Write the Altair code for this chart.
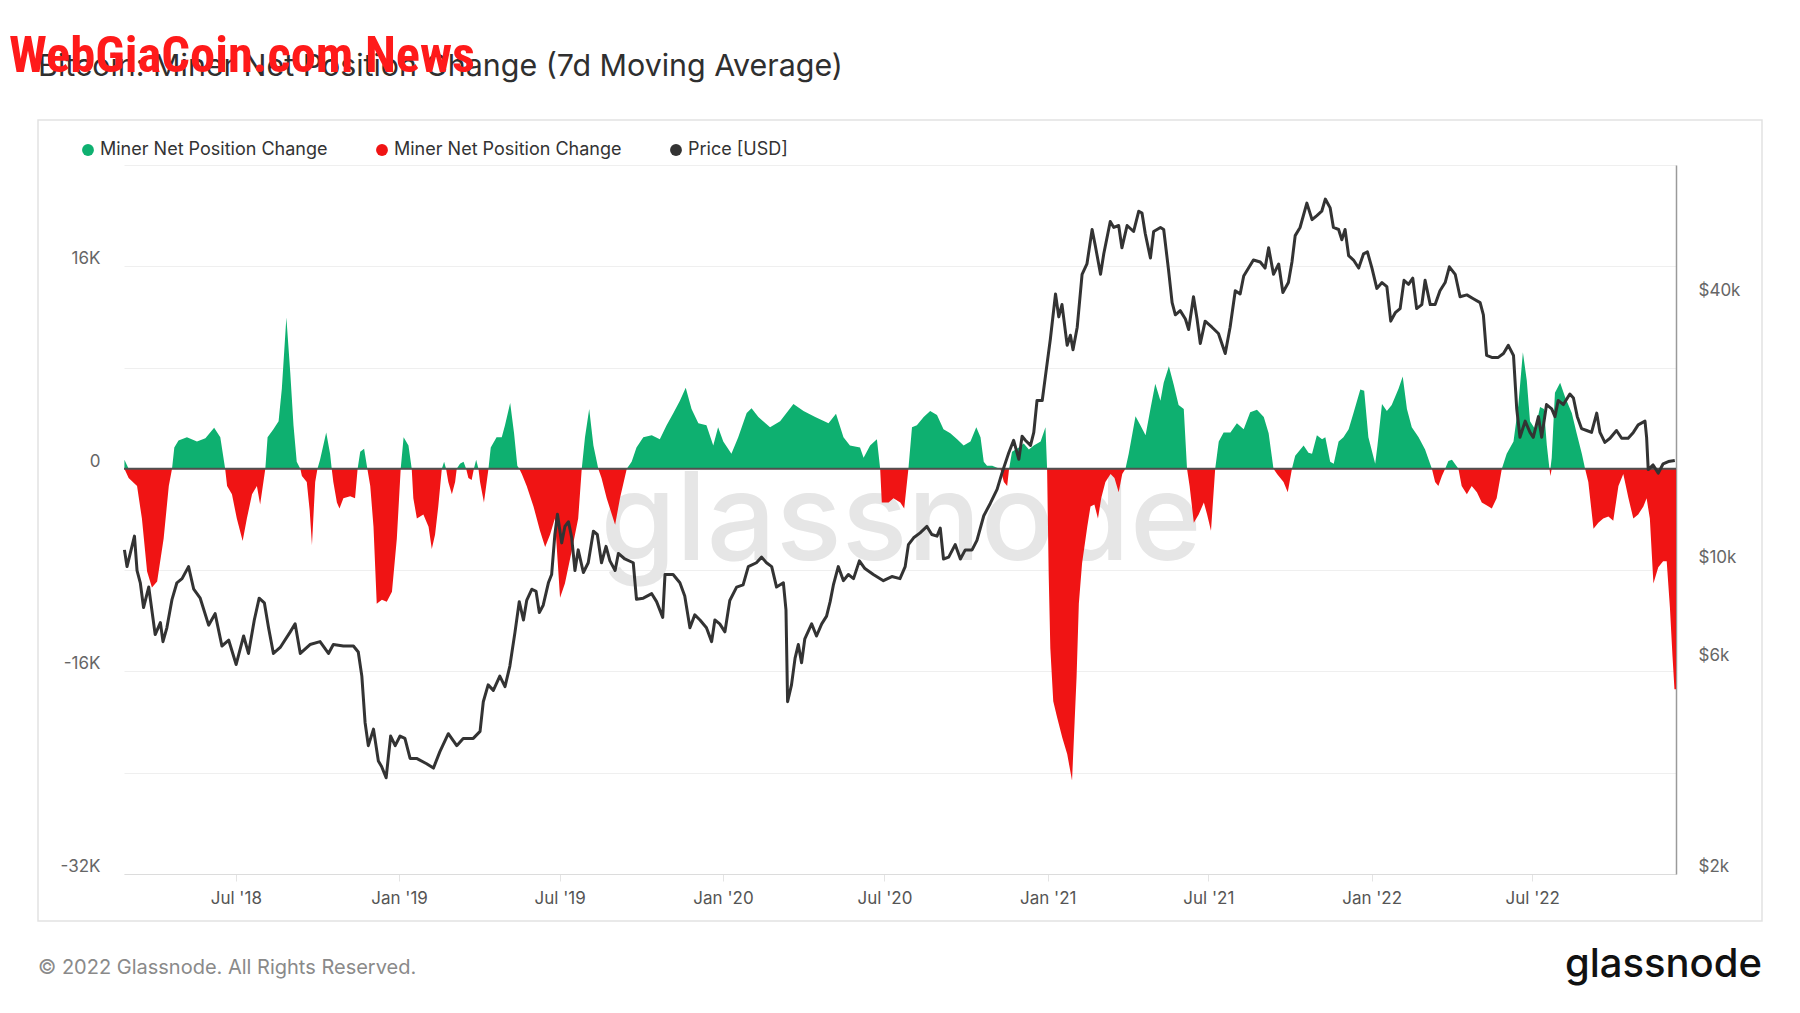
import altair as alt
import pandas as pd

# ---------------- data ----------------
# Miner net position change (7d MA), BTC; dates as decimal years
NET_YEAR = [
    2018.152, 2018.165, 2018.191, 2018.206, 2018.222, 2018.237, 2018.253, 2018.273, 2018.289, 2018.299,
    2018.306, 2018.319, 2018.345, 2018.376, 2018.402, 2018.429, 2018.448, 2018.463, 2018.469, 2018.484,
    2018.499, 2018.517, 2018.530, 2018.546, 2018.561, 2018.571, 2018.587, 2018.594, 2018.612, 2018.628,
    2018.638, 2018.652, 2018.664, 2018.674, 2018.684, 2018.695, 2018.700, 2018.715, 2018.724, 2018.731,
    2018.741, 2018.748, 2018.756, 2018.775, 2018.787, 2018.792, 2018.797, 2018.808, 2018.816, 2018.828,
    2018.849, 2018.864, 2018.872, 2018.880, 2018.892, 2018.902, 2018.911, 2018.921, 2018.931, 2018.947,
    2018.962, 2018.978, 2018.993, 2019.005, 2019.014, 2019.029, 2019.039, 2019.044, 2019.055, 2019.075,
    2019.091, 2019.101, 2019.111, 2019.121, 2019.132, 2019.139, 2019.145, 2019.152, 2019.163, 2019.173,
    2019.178, 2019.188, 2019.199, 2019.207, 2019.214, 2019.224, 2019.231, 2019.238, 2019.245, 2019.250,
    2019.262, 2019.276, 2019.283, 2019.301, 2019.317, 2019.327, 2019.343, 2019.355, 2019.365, 2019.371,
    2019.379, 2019.394, 2019.415, 2019.435, 2019.451, 2019.466, 2019.481, 2019.497, 2019.512, 2019.533,
    2019.553, 2019.564, 2019.574, 2019.587, 2019.600, 2019.615, 2019.625, 2019.641, 2019.667, 2019.682,
    2019.703, 2019.718, 2019.733, 2019.754, 2019.780, 2019.805, 2019.826, 2019.847, 2019.867, 2019.885,
    2019.903, 2019.924, 2019.949, 2019.970, 2019.985, 2020.001, 2020.026, 2020.047, 2020.073, 2020.088,
    2020.109, 2020.145, 2020.176, 2020.217, 2020.248, 2020.284, 2020.325, 2020.348, 2020.371, 2020.391,
    2020.422, 2020.433, 2020.453, 2020.474, 2020.484, 2020.489, 2020.510, 2020.525, 2020.546, 2020.558,
    2020.571, 2020.582, 2020.597, 2020.618, 2020.638, 2020.659, 2020.679, 2020.700, 2020.721, 2020.741,
    2020.762, 2020.780, 2020.793, 2020.803, 2020.813, 2020.829, 2020.844, 2020.854, 2020.865, 2020.875,
    2020.881, 2020.890, 2020.911, 2020.926, 2020.942, 2020.957, 2020.978, 2020.993, 2020.998, 2021.003,
    2021.008, 2021.017, 2021.029, 2021.045, 2021.060, 2021.075, 2021.083, 2021.089, 2021.096, 2021.106,
    2021.122, 2021.132, 2021.144, 2021.155, 2021.165, 2021.178, 2021.194, 2021.206, 2021.219, 2021.230,
    2021.240, 2021.250, 2021.271, 2021.286, 2021.302, 2021.317, 2021.332, 2021.348, 2021.358, 2021.374,
    2021.389, 2021.404, 2021.420, 2021.430, 2021.438, 2021.451, 2021.466, 2021.482, 2021.492, 2021.504,
    2021.517, 2021.528, 2021.543, 2021.564, 2021.584, 2021.605, 2021.625, 2021.646, 2021.667, 2021.682,
    2021.697, 2021.708, 2021.728, 2021.741, 2021.754, 2021.764, 2021.790, 2021.805, 2021.816, 2021.831,
    2021.847, 2021.857, 2021.872, 2021.883, 2021.898, 2021.913, 2021.929, 2021.944, 2021.965, 2021.977,
    2021.990, 2022.011, 2022.018, 2022.032, 2022.047, 2022.062, 2022.083, 2022.096, 2022.109, 2022.124,
    2022.145, 2022.165, 2022.186, 2022.196, 2022.206, 2022.217, 2022.227, 2022.237, 2022.248, 2022.268,
    2022.278, 2022.294, 2022.309, 2022.325, 2022.340, 2022.356, 2022.371, 2022.386, 2022.402, 2022.417,
    2022.438, 2022.453, 2022.467, 2022.479, 2022.489, 2022.505, 2022.520, 2022.532, 2022.541, 2022.549,
    2022.552, 2022.556, 2022.566, 2022.582, 2022.597, 2022.618, 2022.633, 2022.649, 2022.659, 2022.669,
    2022.685, 2022.700, 2022.715, 2022.731, 2022.746, 2022.762, 2022.777, 2022.793, 2022.808, 2022.823,
    2022.839, 2022.849, 2022.859, 2022.870, 2022.885, 2022.900, 2022.911, 2022.921, 2022.929, 2022.935,
    2022.940,
]
NET_VALUE = [
    720, -720, -1360, -3930, -8100, -9380, -8900, -5530, -1360, 0,
    1680, 2230, 2490, 2160, 2420, 3250, 2490, 0, -1360, -2000,
    -3930, -5690, -3930, -2000, -1360, -2810, 0, 2490, 3130, 3770,
    6330, 11950, 7620, 3450, 560, 0, -560, -1040, -3290, -6010,
    -1040, 0, 720, 2870, 1200, 0, -1040, -2650, -3130, -2330,
    -2160, -2330, 0, 1360, 1590, 0, -1360, -4570, -10660, -10340,
    -10500, -9700, -5530, 0, 2490, 1840, 0, -2330, -3930, -3610,
    -4570, -6330, -5210, -2970, 0, 560, 0, -1040, -2000, -1040,
    0, 400, 560, 0, -720, -880, 0, 720, 0, -1040,
    -2650, 0, 1680, 2490, 2490, 3450, 5210, 2810, 240, 0,
    -400, -1360, -2970, -4890, -6170, -5210, -3930, -10180, -9060, -6490,
    -3930, 0, 2490, 4730, 1840, 0, -720, -2330, -4410, -2330,
    0, 560, 1680, 2490, 2650, 2330, 3450, 4410, 5370, 6400,
    4730, 3610, 3450, 1840, 3290, 2160, 1200, 2490, 4410, 4790,
    4090, 3290, 3770, 5120, 4570, 4090, 3610, 4350, 2490, 1840,
    1680, 880, 1840, 2330, 0, -2650, -2650, -2330, -2650, -3130,
    0, 3290, 3450, 4090, 4570, 4250, 3130, 2810, 2330, 1840,
    2160, 3290, 2490, 560, 240, 240, 80, 0, -1040, -1360,
    0, 1360, 1680, 2000, 1520, 1840, 2160, 3290, 0, -8420,
    -14190, -18360, -19640, -21240, -22530, -24610, -19960, -16440, -10660, -7460,
    -4570, -2970, -2810, -3930, -2330, -1040, -400, -720, -1840, -400,
    0, 1200, 4150, 3450, 2650, 4730, 6720, 5370, 6810, 8100,
    6650, 5050, 4730, 0, -1360, -4250, -3610, -2650, -3610, -4890,
    0, 2160, 2870, 2870, 3610, 3130, 4470, 4670, 4090, 2810,
    0, -400, -1040, -1840, 0, 1040, 1840, 1270, 1200, 2650,
    2330, 2490, 560, 400, 2160, 2490, 3130, 4410, 6270, 6170,
    2490, 400, 1840, 5120, 4570, 5050, 6330, 7300, 4730, 3290,
    2490, 1520, 0, -1040, -1360, -560, 0, 630, 720, 0,
    -1360, -2000, -1360, -1840, -2650, -2890, -3130, -2330, 0, 1200,
    2160, 5050, 9220, 6980, 3770, 3130, 4890, 4730, 1840, 0,
    -560, 880, 6010, 6810, 5690, 4410, 2810, 1200, 0, -1040,
    -4730, -4250, -3930, -3770, -4090, -1360, -400, -2330, -3930, -3610,
    -2970, -2330, -3930, -9060, -7780, -7300, -7300, -10980, -14830, -17400,
    -17400,
]

# Bitcoin price [USD]; dates as decimal years
PRICE_YEAR = [
    2018.152, 2018.160, 2018.170, 2018.183, 2018.191, 2018.201, 2018.211, 2018.227, 2018.247, 2018.263,
    2018.271, 2018.283, 2018.299, 2018.314, 2018.330, 2018.350, 2018.366, 2018.386, 2018.412, 2018.432,
    2018.453, 2018.474, 2018.497, 2018.520, 2018.535, 2018.553, 2018.568, 2018.584, 2018.597, 2018.612,
    2018.633, 2018.664, 2018.679, 2018.695, 2018.725, 2018.756, 2018.782, 2018.797, 2018.828, 2018.859,
    2018.874, 2018.885, 2018.895, 2018.905, 2018.921, 2018.936, 2018.946, 2018.960, 2018.974, 2018.988,
    2019.003, 2019.018, 2019.034, 2019.054, 2019.085, 2019.106, 2019.126, 2019.152, 2019.178, 2019.198,
    2019.229, 2019.250, 2019.260, 2019.275, 2019.291, 2019.311, 2019.327, 2019.342, 2019.358, 2019.371,
    2019.384, 2019.394, 2019.410, 2019.423, 2019.433, 2019.445, 2019.461, 2019.471, 2019.481, 2019.489,
    2019.502, 2019.512, 2019.523, 2019.533, 2019.543, 2019.553, 2019.569, 2019.584, 2019.600, 2019.612,
    2019.625, 2019.639, 2019.651, 2019.667, 2019.677, 2019.697, 2019.723, 2019.733, 2019.754, 2019.780,
    2019.795, 2019.814, 2019.821, 2019.846, 2019.867, 2019.882, 2019.898, 2019.913, 2019.929, 2019.949,
    2019.965, 2019.975, 2019.990, 2020.006, 2020.021, 2020.042, 2020.062, 2020.078, 2020.103, 2020.119,
    2020.134, 2020.150, 2020.165, 2020.186, 2020.194, 2020.199, 2020.211, 2020.222, 2020.232, 2020.242,
    2020.252, 2020.273, 2020.288, 2020.304, 2020.319, 2020.330, 2020.340, 2020.355, 2020.371, 2020.386,
    2020.402, 2020.420, 2020.437, 2020.463, 2020.494, 2020.520, 2020.545, 2020.561, 2020.571, 2020.587,
    2020.607, 2020.628, 2020.643, 2020.659, 2020.669, 2020.679, 2020.695, 2020.715, 2020.731, 2020.746,
    2020.767, 2020.782, 2020.803, 2020.823, 2020.844, 2020.859, 2020.880, 2020.895, 2020.911, 2020.921,
    2020.931, 2020.947, 2020.957, 2020.967, 2020.983, 2020.993, 2021.008, 2021.024, 2021.034, 2021.044,
    2021.060, 2021.070, 2021.078, 2021.091, 2021.106, 2021.121, 2021.137, 2021.147, 2021.163, 2021.173,
    2021.193, 2021.204, 2021.219, 2021.229, 2021.245, 2021.265, 2021.281, 2021.291, 2021.301, 2021.317,
    2021.327, 2021.348, 2021.358, 2021.373, 2021.384, 2021.394, 2021.409, 2021.425, 2021.435, 2021.450,
    2021.461, 2021.471, 2021.486, 2021.507, 2021.527, 2021.548, 2021.563, 2021.579, 2021.594, 2021.605,
    2021.620, 2021.635, 2021.656, 2021.671, 2021.682, 2021.697, 2021.713, 2021.726, 2021.743, 2021.754,
    2021.764, 2021.779, 2021.800, 2021.816, 2021.831, 2021.846, 2021.857, 2021.872, 2021.882, 2021.898,
    2021.908, 2021.918, 2021.929, 2021.944, 2021.960, 2021.975, 2021.987, 2022.001, 2022.016, 2022.032,
    2022.047, 2022.059, 2022.073, 2022.088, 2022.100, 2022.114, 2022.127, 2022.139, 2022.155, 2022.165,
    2022.181, 2022.196, 2022.211, 2022.227, 2022.240, 2022.258, 2022.273, 2022.294, 2022.314, 2022.335,
    2022.345, 2022.355, 2022.371, 2022.391, 2022.407, 2022.422, 2022.438, 2022.448, 2022.458, 2022.474,
    2022.489, 2022.499, 2022.515, 2022.525, 2022.540, 2022.556, 2022.566, 2022.576, 2022.592, 2022.612,
    2022.623, 2022.635, 2022.648, 2022.664, 2022.679, 2022.695, 2022.705, 2022.720, 2022.736, 2022.756,
    2022.772, 2022.792, 2022.808, 2022.823, 2022.844, 2022.849, 2022.854, 2022.869, 2022.885, 2022.900,
    2022.916, 2022.936,
]
PRICE_USD = [
    10800, 9900, 10600, 11600, 9700, 9100, 8000, 8900, 6950, 7400,
    6700, 7200, 8350, 9100, 9300, 9900, 8800, 8400, 7300, 7750,
    6550, 6750, 5950, 6900, 6300, 7500, 8400, 8200, 7200, 6300,
    6500, 7050, 7350, 6300, 6600, 6700, 6300, 6600, 6550, 6550,
    6350, 5600, 4400, 3900, 4250, 3600, 3500, 3300, 4100, 3900,
    4100, 4050, 3650, 3650, 3550, 3470, 3780, 4150, 3900, 4050,
    4050, 4200, 4900, 5350, 5200, 5600, 5300, 5900, 7050, 8250,
    7500, 8300, 8800, 8700, 7800, 8100, 9100, 9500, 11700, 13000,
    11200, 12200, 12500, 11500, 9700, 10800, 9600, 10100, 11900, 11700,
    10100, 11000, 10200, 9700, 10600, 10300, 10100, 8350, 8400, 8600,
    8250, 7600, 9500, 9500, 9100, 8500, 7200, 7700, 7500, 7200,
    6700, 7500, 7350, 7050, 8300, 8900, 9000, 9900, 10100, 10400,
    10100, 9900, 8900, 9100, 7900, 4900, 5350, 6150, 6600, 6000,
    6800, 7350, 6900, 7350, 7650, 8250, 9000, 9900, 9200, 9500,
    9300, 10200, 9800, 9500, 9200, 9400, 9300, 9900, 11100, 11500,
    11800, 12200, 11700, 11600, 12100, 10300, 10400, 11100, 10300, 10800,
    10800, 11350, 12900, 13750, 14800, 16100, 17900, 19100, 17300, 19500,
    19100, 18600, 19900, 23500, 23500, 26700, 32300, 40900, 36300, 38700,
    31300, 33000, 30600, 34400, 45300, 47800, 57200, 52500, 45300, 50400,
    59600, 57800, 58400, 52000, 58400, 56600, 62900, 62300, 56000, 49300,
    56600, 57800, 57200, 46300, 39100, 36700, 37500, 35900, 34000, 40300,
    35900, 31600, 35500, 34400, 33300, 30000, 34400, 41600, 40900, 44900,
    46800, 48800, 48300, 46800, 52000, 45300, 47800, 41200, 43400, 48300,
    55400, 57800, 65600, 60200, 61500, 62900, 67000, 64000, 57800, 57200,
    54200, 57200, 49900, 48800, 46800, 50400, 50900, 46800, 42100, 43400,
    42500, 35500, 37100, 37900, 43900, 43000, 44400, 37900, 38700, 43900,
    38700, 38700, 41600, 43400, 47100, 45300, 40300, 40700, 39900, 39100,
    36700, 29700, 29400, 29400, 30000, 31300, 29700, 22500, 19400, 21100,
    19900, 19400, 21600, 19400, 23000, 22500, 21600, 23500, 23000, 24300,
    23800, 21600, 20300, 20100, 19900, 22000, 19900, 18900, 19300, 20100,
    19300, 19300, 19900, 20700, 21100, 19400, 16400, 16800, 16100, 16900,
    17100, 17200,
]

X_START = "2018-02-25"
X_END = "2022-12-10"
X_TICKS = ["2018-07-01", "2019-01-01", "2019-07-01", "2020-01-01", "2020-07-01",
           "2021-01-01", "2021-07-01", "2022-01-01", "2022-07-01"]
LEFT_DOMAIN = [-32000, 24000]
LEFT_TICKS = [-32000, -24000, -16000, -8000, 0, 8000, 16000, 24000]
RIGHT_DOMAIN = [2000, 80000]
RIGHT_TICKS = [2000, 4000, 6000, 8000, 10000, 20000, 40000, 60000, 80000]
RIGHT_LABELED = [2000, 6000, 10000, 40000]

TITLE = "Bitcoin: Miner Net Position Change (7d Moving Average)"
OVERLAY = "WebGiaCoin.com News"
FOOTER = "\u00a9 2022 Glassnode. All Rights Reserved."
BRAND = "glassnode"

GREEN = "#0eb070"
RED = "#f01414"
DARK = "#333333"
FONT = "Inter"
AXIS_FS = 17


def to_date(y):
    yi = int(y)
    start = pd.Timestamp(year=yi, month=1, day=1)
    ndays = (pd.Timestamp(year=yi + 1, month=1, day=1) - start).days
    return start + pd.Timedelta(days=(y - yi) * ndays)


net = pd.DataFrame({"date": [to_date(y) for y in NET_YEAR], "value": NET_VALUE})
net["pos"] = net["value"].clip(lower=0)
net["neg"] = net["value"].clip(upper=0)
price = pd.DataFrame({"date": [to_date(y) for y in PRICE_YEAR], "price": PRICE_USD})

W, H = 1552, 709

xscale = alt.Scale(domain=[pd.Timestamp(X_START).isoformat(), pd.Timestamp(X_END).isoformat()])
xaxis = alt.Axis(
    values=[pd.Timestamp(t).isoformat() for t in X_TICKS], format="%b '%y", title=None,
    grid=False, labelFont=FONT, labelFontSize=AXIS_FS, labelColor="#555555",
    tickColor="#e4e4e4", tickSize=7, domainColor="#dcdcdc", labelPadding=9,
    labelOverlap=False, labelFlush=False,
)

color_scale = alt.Scale(domain=["pos", "neg", "price"], range=[GREEN, RED, DARK])
legend = alt.Legend(
    orient="none", legendX=-45, legendY=-24, direction="horizontal", title=None,
    symbolType="circle", symbolSize=140, symbolStrokeWidth=0, labelFont=FONT, labelFontSize=18,
    labelColor="#333333", labelOffset=3, columnPadding=45, labelLimit=0,
    labelExpr="datum.value == 'price' ? 'Price [USD]' : 'Miner Net Position Change'",
)

left_scale = alt.Scale(domain=LEFT_DOMAIN, nice=False, zero=False)
left_axis = alt.Axis(
    orient="left", values=LEFT_TICKS, title=None, domain=False, ticks=False,
    labelExpr="datum.value % 16000 == 0 ? (datum.value == 0 ? '0' : (datum.value / 1000) + 'K') : ''",
    gridColor="#efefef", labelFont=FONT, labelFontSize=AXIS_FS, labelColor="#666666",
    labelPadding=24, labelBaseline="bottom", labelOffset=1.5, labelOverlap=False, labelFlush=False,
)

labeled = ",".join(str(v) for v in RIGHT_LABELED)
right_scale = alt.Scale(type="log", domain=RIGHT_DOMAIN, nice=False)
right_axis = alt.Axis(
    orient="right", values=RIGHT_TICKS, title=None, ticks=False,
    labelExpr=f"indexof([{labeled}], datum.value) >= 0 ? '$' + (datum.value / 1000) + 'k' : ''",
    gridColor="#efefef", domain=True, domainColor="#9a9a9a", domainWidth=1.5,
    labelFont=FONT, labelFontSize=AXIS_FS, labelColor="#666666",
    labelPadding=22, labelBaseline="bottom", labelOffset=1.5, labelOverlap=False, labelFlush=False,
)

x_enc = alt.X("date:T", scale=xscale, axis=xaxis)

pos_area = alt.Chart(net).transform_calculate(series="'pos'").mark_area(
    interpolate="linear", opacity=1
).encode(
    x=x_enc,
    y=alt.Y("pos:Q", scale=left_scale, axis=left_axis),
    y2=alt.datum(0),
    color=alt.Color("series:N", scale=color_scale, legend=legend),
)
neg_area = alt.Chart(net).transform_calculate(series="'neg'").mark_area(
    interpolate="linear", opacity=1
).encode(
    x=alt.X("date:T", scale=xscale),
    y=alt.Y("neg:Q", scale=left_scale),
    y2=alt.datum(0),
    color=alt.Color("series:N", scale=color_scale, legend=legend),
)
zero_rule = alt.Chart(pd.DataFrame({"z": [0]})).mark_rule(color="#505050", strokeWidth=2).encode(
    y=alt.Y("z:Q", scale=left_scale)
)
left_layer = alt.layer(pos_area, neg_area, zero_rule)

price_line = alt.Chart(price).transform_calculate(series="'price'").mark_line(
    strokeWidth=3, strokeJoin="round"
).encode(
    x=alt.X("date:T", scale=xscale),
    y=alt.Y("price:Q", scale=right_scale, axis=right_axis),
    color=alt.Color("series:N", scale=color_scale, legend=legend),
)

one = pd.DataFrame({"a": [0]})


def text_layer(text, **kw):
    pos = {k: kw.pop(k) for k in ["px", "py"]}
    return alt.Chart(pd.DataFrame({"t": [text]})).mark_text(**kw).encode(
        text="t:N", x=alt.value(pos["px"]), y=alt.value(pos["py"])
    )


frame_box = alt.Chart(one).mark_rect(fill=None, stroke="#e2e2e2", strokeWidth=1.5).encode(
    x=alt.value(-86), x2=alt.value(W + 86), y=alt.value(-45), y2=alt.value(H + 47)
)
bg_brand = text_layer(BRAND, px=777, py=358, font=FONT, fontSize=122, fontWeight=500,
                      color="#e6e6e6", align="center", baseline="middle")
title_t = text_layer(TITLE, px=-86, py=-98, font=FONT, fontSize=30.4, color="#2f2f2f",
                     align="left", baseline="middle")
overlay_t = text_layer(OVERLAY, px=-115, py=-108, font="Roboto Condensed, DejaVu Sans Condensed, Roboto",
                       fontSize=50.5, fontWeight="bold", color="#ff1a1a", align="left", baseline="middle")
footer_t = text_layer(FOOTER, px=-86, py=803, font=FONT, fontSize=20, color="#8a8a8a",
                      align="left", baseline="middle")
brand_t = text_layer(BRAND, px=W + 86, py=800, font=FONT, fontSize=40, fontWeight=500,
                     color="#111111", align="right", baseline="middle")

base = alt.layer(frame_box, bg_brand)
chart = alt.layer(
    base,
    left_layer,
    price_line,
    title_t, overlay_t, footer_t, brand_t,
).resolve_scale(y="independent").properties(
    width=W, height=H,
    autosize=alt.AutoSizeParams(type="none"),
    padding={"left": 116, "top": 157, "right": 116, "bottom": 131},
    background="white",
).configure_view(stroke=None)

chart.save("out.html", embed_options={"renderer": "svg", "actions": False})
